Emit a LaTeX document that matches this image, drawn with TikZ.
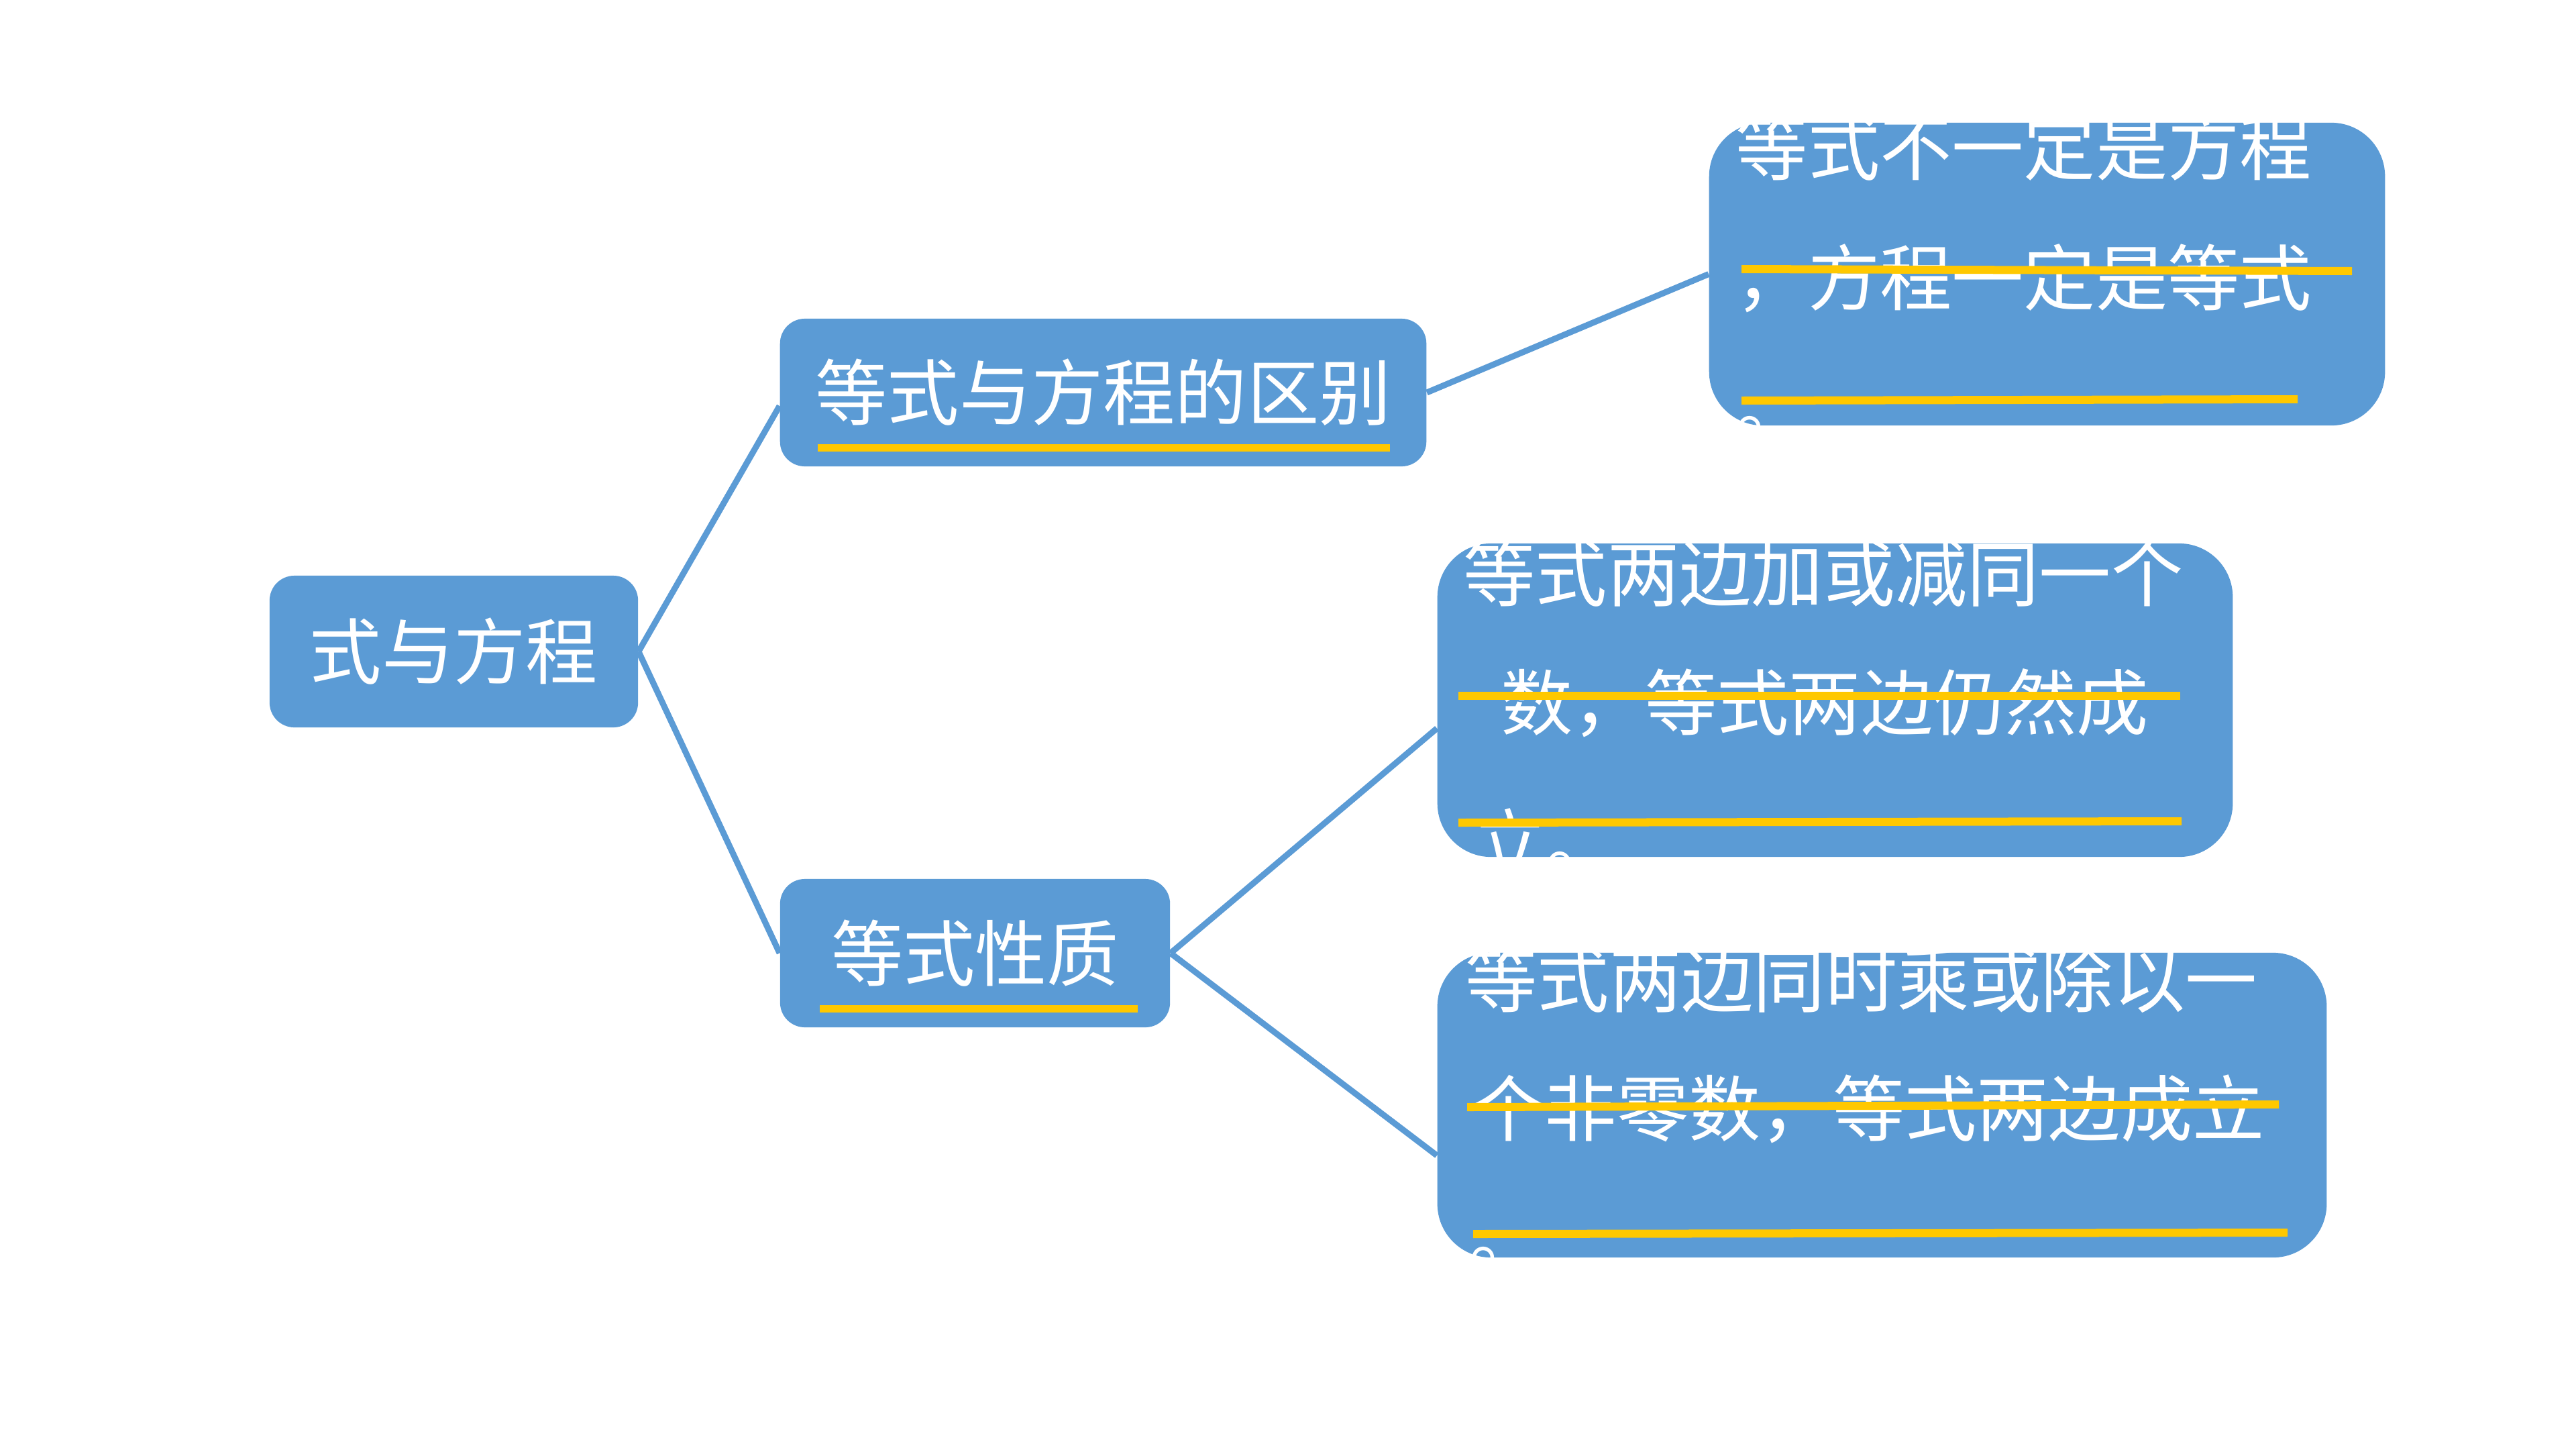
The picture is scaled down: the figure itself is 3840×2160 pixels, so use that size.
\documentclass[tikz,border=0pt]{standalone}
\usepackage{fontspec}
\newfontfamily\cjk{Noto Sans CJK SC}
\usetikzlibrary{backgrounds}
\definecolor{boxblue}{HTML}{5B9BD5}
\definecolor{hiyellow}{HTML}{FFC800}
\tikzset{
  box/.style={draw=none, fill=boxblue, inner sep=0pt, text=white,
    font=\cjk\fontsize{30.5pt}{36pt}\selectfont},
  smallbox/.style={box, rounded corners=0.37cm},
  bigbox/.style={box, rounded corners=0.8cm},
  linetext/.style={anchor=base west, inner sep=0pt, text=white,
    font=\cjk\fontsize{30.5pt}{36pt}\selectfont},
  conn/.style={draw=boxblue, line width=0.09cm},
  hiline/.style={draw=hiyellow, line width=0.12cm}
}
\begin{document}
\begin{tikzpicture}[x=0.01cm,y=-0.01cm]
\useasboundingbox (0,0) rectangle (3840,2160);

% boxes
\node[smallbox, minimum width=5.49cm, minimum height=2.26cm] (R) at (676.5,971) {式与方程};
\node[smallbox, minimum width=9.63cm, minimum height=2.20cm] (A) at (1644.5,585) {等式与方程的区别};
\node[smallbox, minimum width=5.81cm, minimum height=2.21cm] (B) at (1453.5,1420.5) {等式性质};
\node[bigbox, minimum width=10.07cm, minimum height=4.51cm] (C) at (3051.5,408.5) {};
\node[bigbox, minimum width=11.85cm, minimum height=4.67cm] (D) at (2735.5,1043.5) {};
\node[bigbox, minimum width=13.25cm, minimum height=4.54cm] (E) at (2805.5,1647) {};

% underlines of the small boxes
\coordinate (a1) at (1219,667); \coordinate (a2) at (2072,667);
\draw[hiline, line width=0.11cm] (a1) -- (a2);
\coordinate (b1) at (1222,1503); \coordinate (b2) at (1696,1503);
\draw[hiline, line width=0.11cm] (b1) -- (b2);

% background and connectors
\begin{scope}[on background layer]
\fill[white] (0,0) rectangle (3840,2160);
\draw[conn] (R.east) -- ([yshift=-0.2cm]A.west);
\draw[conn] (R.east) -- (B.west);
\draw[conn] (A.east) -- (C.west);
\draw[conn] (B.east) -- ([yshift=-0.42cm]D.west);
\draw[conn] (B.east) -- ([yshift=-0.75cm]E.west);
\end{scope}

% box C text
\begin{scope}
\clip[rounded corners=0.8cm] (C.south west) rectangle (C.north east);
\node[linetext] (c1) at (2587,260) {等式不一定是方程};
\node[linetext] (c2) at (2587,454) {，方程一定是等式};
\node[linetext] (c3) at (2587,646) {。};
\coordinate (cy1) at (2596,401); \coordinate (cy2) at (3506,404);
\draw[hiline] (cy1) -- (cy2);
\coordinate (cy3) at (2596,597); \coordinate (cy4) at (3425,595);
\draw[hiline] (cy3) -- (cy4);
\end{scope}

% box D text
\begin{scope}
\clip[rounded corners=0.8cm] (D.south west) rectangle (D.north east);
\node[linetext] (d1) at (2181,895) {等式两边加或减同一个};
\node[linetext] (d2) at (2237,1087) {数，等式两边仍然成};
\node[linetext] (d3) at (2197,1295) {立。};
\coordinate (dy1) at (2174,1037); \coordinate (dy2) at (3250,1037);
\draw[hiline] (dy1) -- (dy2);
\coordinate (dy3) at (2174,1226); \coordinate (dy4) at (3252,1224);
\draw[hiline] (dy3) -- (dy4);
\end{scope}

% box E text
\begin{scope}
\clip[rounded corners=0.8cm] (E.south west) rectangle (E.north east);
\node[linetext] (e1) at (2184,1500) {等式两边同时乘或除以一};
\node[linetext] (e2) at (2195,1692) {个非零数，等式两边成立};
\node[linetext] (e3) at (2190,1884) {。};
\coordinate (ey1) at (2187,1650); \coordinate (ey2) at (3397,1646);
\draw[hiline] (ey1) -- (ey2);
\coordinate (ey3) at (2196,1839); \coordinate (ey4) at (3410,1837);
\draw[hiline] (ey3) -- (ey4);
\end{scope}
\end{tikzpicture}
\end{document}
